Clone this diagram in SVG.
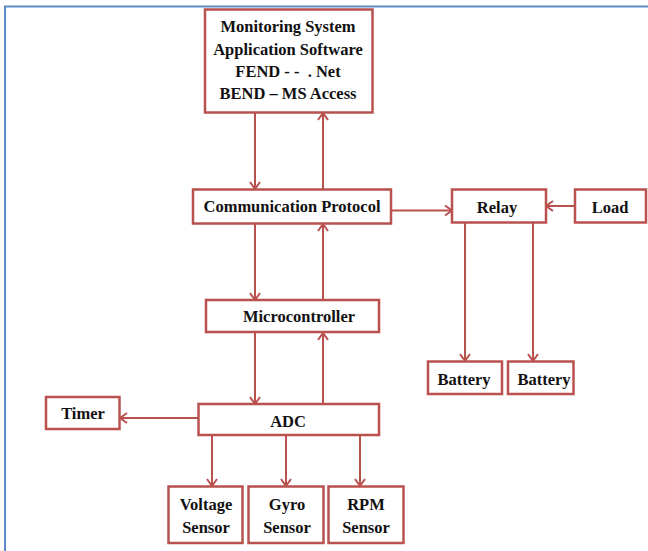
<svg xmlns="http://www.w3.org/2000/svg" width="648" height="551" viewBox="0 0 648 551">
<style>
.box{fill:#fff;stroke:#b9524f;stroke-width:2.5}
.ln{fill:none;stroke:#b9524f;stroke-width:2;marker-end:url(#arr)}
.lbl{font-family:"Liberation Serif",serif;font-weight:bold;font-size:16.5px;fill:#111;text-anchor:middle}
.frame{fill:none;stroke:#5b8bc7;stroke-width:2}
</style>
<defs>
<marker id="arr" markerUnits="userSpaceOnUse" viewBox="0 0 10 12" refX="9" refY="6" markerWidth="10" markerHeight="12" orient="auto">
<path d="M2,1 L9,6 L2,11" fill="none" stroke="#b9524f" stroke-width="2"/>
</marker>
</defs>
<rect width="648" height="551" fill="#fff"/>
<path class="frame" d="M5,551 V6.5 H648"/>
<g id="connectors">
<line class="ln" x1="255" y1="113" x2="255" y2="189"/>
<line class="ln" x1="323" y1="189" x2="323" y2="113"/>
<line class="ln" x1="255" y1="224" x2="255" y2="300"/>
<line class="ln" x1="323" y1="300" x2="323" y2="224"/>
<line class="ln" x1="255" y1="333" x2="255" y2="404"/>
<line class="ln" x1="323" y1="404" x2="323" y2="333"/>
<line class="ln" x1="198" y1="418" x2="120" y2="418"/>
<line class="ln" x1="212" y1="436" x2="212" y2="486"/>
<line class="ln" x1="286" y1="436" x2="286" y2="486"/>
<line class="ln" x1="360" y1="436" x2="360" y2="486"/>
<line class="ln" x1="391" y1="210.5" x2="452" y2="210.5"/>
<line class="ln" x1="575" y1="206" x2="546" y2="206"/>
<line class="ln" x1="465" y1="223" x2="465" y2="361"/>
<line class="ln" x1="533" y1="223" x2="533" y2="361"/>
</g>
<g id="app">
<rect class="box" x="205" y="9.5" width="167.5" height="103"/>
<text class="lbl" x="288" y="32">Monitoring System</text>
<text class="lbl" x="288" y="55">Application Software</text>
<text class="lbl" x="288" y="77" xml:space="preserve">FEND - -  . Net</text>
<text class="lbl" x="288" y="99">BEND – MS Access</text>
</g>
<g id="comm">
<rect class="box" x="193" y="189.5" width="198" height="34"/>
<text class="lbl" x="292" y="212">Communication Protocol</text>
</g>
<g id="micro">
<rect class="box" x="206" y="300" width="173" height="32"/>
<text class="lbl" x="299" y="322">Microcontroller</text>
</g>
<g id="relay">
<rect class="box" x="452" y="189.5" width="94" height="33"/>
<text class="lbl" x="497" y="213">Relay</text>
</g>
<g id="load">
<rect class="box" x="575" y="189.5" width="71" height="33"/>
<text class="lbl" x="610" y="213">Load</text>
</g>
<g id="battery1">
<rect class="box" x="428" y="361.5" width="74" height="32.5"/>
<text class="lbl" x="464" y="385">Battery</text>
</g>
<g id="battery2">
<rect class="box" x="508" y="361.5" width="65.5" height="32.5"/>
<text class="lbl" x="544" y="385">Battery</text>
</g>
<g id="adc">
<rect class="box" x="198.5" y="404" width="180.5" height="31"/>
<text class="lbl" x="288" y="427">ADC</text>
</g>
<g id="timer">
<rect class="box" x="46" y="397" width="73.5" height="32"/>
<text class="lbl" x="83" y="419">Timer</text>
</g>
<g id="voltage">
<rect class="box" x="168.5" y="486.5" width="74" height="56.5"/>
<text class="lbl" x="206" y="510">Voltage</text>
<text class="lbl" x="206" y="533">Sensor</text>
</g>
<g id="gyro">
<rect class="box" x="248.5" y="486.5" width="75" height="56.5"/>
<text class="lbl" x="287" y="510">Gyro</text>
<text class="lbl" x="287" y="533">Sensor</text>
</g>
<g id="rpm">
<rect class="box" x="328.5" y="486.5" width="75" height="56.5"/>
<text class="lbl" x="366" y="510">RPM</text>
<text class="lbl" x="366" y="533">Sensor</text>
</g>
</svg>
